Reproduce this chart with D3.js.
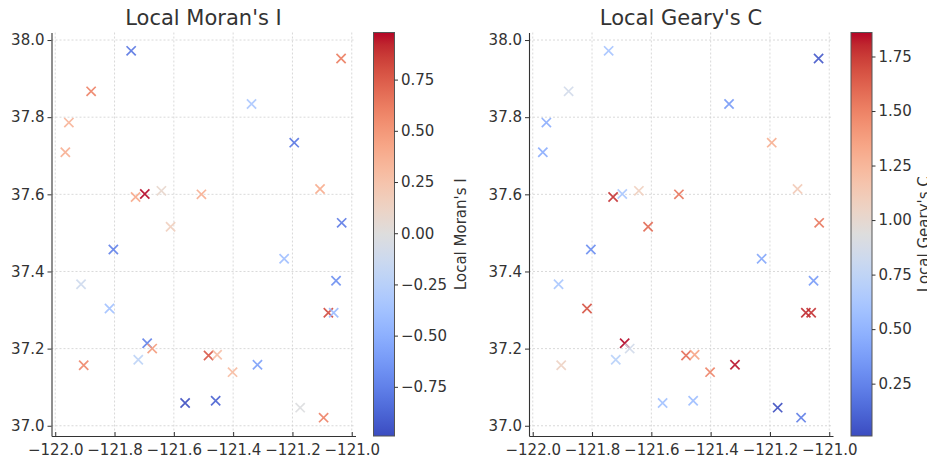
<!DOCTYPE html>
<html>
<head>
<meta charset="utf-8">
<script src="https://cdn.jsdelivr.net/npm/d3@7"></script>
<style>
  html, body { margin: 0; padding: 0; background: #fff; }
  svg { display: block; font-family: "DejaVu Sans", sans-serif; }
</style>
</head>
<body>
<svg id="chart" width="927" height="461"></svg>
<script>
// ---- data ----
const lon = [-121.744, -121.879, -121.954, -121.966, -121.729, -121.698, -121.642, -121.611, -121.507,
             -121.036, -121.338, -121.194, -121.107, -121.034, -121.804, -121.913, -121.817, -121.690,
             -121.673, -121.720, -121.904, -121.562, -121.228, -121.053, -121.079, -121.061, -121.483,
             -121.454, -121.402, -121.318, -121.459, -121.174, -121.095];
const lat = [37.972, 37.867, 37.786, 37.709, 37.593, 37.601, 37.609, 37.516, 37.600,
             37.952, 37.834, 37.734, 37.614, 37.526, 37.457, 37.367, 37.304, 37.214,
             37.200, 37.171, 37.157, 37.059, 37.433, 37.376, 37.293, 37.293, 37.182,
             37.184, 37.139, 37.158, 37.065, 37.047, 37.021];
const moranI = [-0.80, 0.60, 0.35, 0.38, 0.42, 0.98, 0.08, 0.15, 0.38,
                0.62, -0.33, -0.80, 0.40, -0.78, -0.75, -0.12, -0.38, -0.75,
                0.48, -0.22, 0.58, -0.99, -0.40, -0.68, 0.82, -0.43, 0.78,
                0.28, 0.30, -0.60, -0.90, -0.02, 0.60];
const gearyC = [0.60, 0.85, 0.45, 0.45, 1.78, 0.62, 1.08, 1.60, 1.55,
                0.06, 0.35, 1.30, 1.12, 1.55, 0.30, 0.62, 1.68, 1.86,
                0.85, 0.70, 1.06, 0.58, 0.42, 0.36, 1.80, 1.78, 1.58,
                1.35, 1.50, 1.84, 0.55, 0.01, 0.22];
const xTickVals = [-122.0, -121.8, -121.6, -121.4, -121.2, -121.0];
const yTickVals = [37.0, 37.2, 37.4, 37.6, 37.8, 38.0];
const moranTicks = [-0.75, -0.5, -0.25, 0.0, 0.25, 0.5, 0.75];
const gearyTicks = [0.25, 0.5, 0.75, 1.0, 1.25, 1.5, 1.75];
const titles = ["Local Moran's I", "Local Geary's C"];

// matplotlib "coolwarm" control colours
const coolwarm = ["#3b4cc0","#445acc","#4d68d7","#5775e1","#6282ea","#6c8ef1","#779af7","#82a5fb",
  "#8db0fe","#98b9ff","#a3c2ff","#aec9fd","#b8d0f9","#c2d5f4","#ccd9ee","#d5dbe6","#dddddd",
  "#e5d8d1","#ecd3c5","#f1ccb9","#f5c4ad","#f7bba0","#f7b194","#f7a687","#f49a7b","#f18d6f",
  "#ec7f63","#e57058","#de604d","#d55042","#cb3e38","#c0282f","#b40426"];
const cmapInterp = d3.piecewise(d3.interpolateRgb, coolwarm);

const svg = d3.select("#chart");
const W = 927, H = 461;
svg.append("rect").attr("width", W).attr("height", H).attr("fill", "#fff");

const textCol = "#333333";
const pad = (ext) => { const r = ext[1] - ext[0]; return [ext[0] - 0.05 * r, ext[1] + 0.05 * r]; };
const xDom = pad(d3.extent(lon));
const yDom = pad(d3.extent(lat));

const panels = [
  { left: 51.5, values: moranI, ticks: moranTicks, title: titles[0], cbX: 373.5, labelX: 466 },
  { left: 529, values: gearyC, ticks: gearyTicks, title: titles[1], cbX: 851, labelX: 929 }
];
const topY = 32.5, bottomY = 436, pw = 304, cbW = 21;

panels.forEach((p, pi) => {
  const g = svg.append("g");
  const x = d3.scaleLinear().domain(xDom).range([p.left, p.left + pw]);
  const y = d3.scaleLinear().domain(yDom).range([bottomY, topY]);
  const vext = d3.extent(p.values);
  const norm = d3.scaleLinear().domain(vext).range([0, 1]).clamp(true);
  const color = v => cmapInterp(norm(v));

  // grid
  g.append("g").selectAll("line").data(xTickVals).join("line")
    .attr("x1", d => x(d)).attr("x2", d => x(d)).attr("y1", topY).attr("y2", bottomY)
    .attr("stroke", "#cfcfcf").attr("stroke-width", 0.8).attr("stroke-dasharray", "2,2");
  g.append("g").selectAll("line").data(yTickVals).join("line")
    .attr("x1", p.left).attr("x2", p.left + pw).attr("y1", d => y(d)).attr("y2", d => y(d))
    .attr("stroke", "#cfcfcf").attr("stroke-width", 0.8).attr("stroke-dasharray", "2,2");

  // axes
  const xAxis = d3.axisBottom(x).tickValues(xTickVals).tickFormat(d3.format(".1f"))
    .tickSizeInner(-4).tickSizeOuter(0).tickPadding(8);
  const yAxis = d3.axisLeft(y).tickValues(yTickVals).tickFormat(d3.format(".1f"))
    .tickSizeInner(4).tickSizeOuter(0).tickPadding(3);
  const gx = g.append("g").attr("transform", `translate(0,${bottomY})`).call(xAxis);
  const gy = g.append("g").attr("transform", `translate(${p.left},0)`).call(yAxis);
  [gx, gy].forEach(a => {
    a.select(".domain").attr("stroke", "#333").attr("stroke-width", 1.1);
    a.selectAll(".tick line").attr("stroke", "#333").attr("stroke-width", 1);
    a.selectAll(".tick text").attr("fill", textCol).attr("font-size", "15px")
      .attr("font-family", "DejaVu Sans");
  });

  // markers (x)
  const s = 4.6;
  const pts = g.append("g").selectAll("g").data(p.values.map((v, i) => ({ v, lon: lon[i], lat: lat[i] })))
    .join("g").attr("transform", d => `translate(${x(d.lon)},${y(d.lat)})`);
  pts.append("path")
    .attr("d", `M${-s},${-s}L${s},${s}M${-s},${s}L${s},${-s}`)
    .attr("stroke", d => color(d.v)).attr("stroke-width", 1.7).attr("fill", "none")
    .attr("opacity", 0.9);

  // title
  svg.append("text").attr("x", p.left + pw / 2).attr("y", 25).attr("text-anchor", "middle")
    .attr("font-size", "21px").attr("fill", textCol).text(p.title);

  // colorbar
  const cy = d3.scaleLinear().domain(vext).range([bottomY, topY]);
  const gradId = "grad" + pi;
  const grad = svg.append("defs").append("linearGradient").attr("id", gradId)
    .attr("x1", 0).attr("y1", 1).attr("x2", 0).attr("y2", 0);
  d3.range(0, 1.0001, 1 / 32).forEach(t => {
    grad.append("stop").attr("offset", t).attr("stop-color", cmapInterp(t));
  });
  svg.append("rect").attr("x", p.cbX).attr("y", topY).attr("width", cbW).attr("height", bottomY - topY)
    .attr("fill", `url(#${gradId})`).attr("stroke", "#555").attr("stroke-width", 1);
  const cbAxis = d3.axisRight(cy).tickValues(p.ticks).tickFormat(d3.format(".2f"))
    .tickSizeInner(3.5).tickSizeOuter(0).tickPadding(3);
  const gc = svg.append("g").attr("transform", `translate(${p.cbX + cbW},0)`).call(cbAxis);
  gc.select(".domain").remove();
  gc.selectAll(".tick line").attr("stroke", "#333");
  gc.selectAll(".tick text").attr("fill", textCol).attr("font-size", "15px").attr("font-family", "DejaVu Sans");

  svg.append("text").attr("transform", `translate(${p.labelX},${(topY + bottomY) / 2}) rotate(-90)`)
    .attr("text-anchor", "middle").attr("font-size", "15px").attr("fill", textCol).text(p.title);
});
</script>
</body>
</html>
